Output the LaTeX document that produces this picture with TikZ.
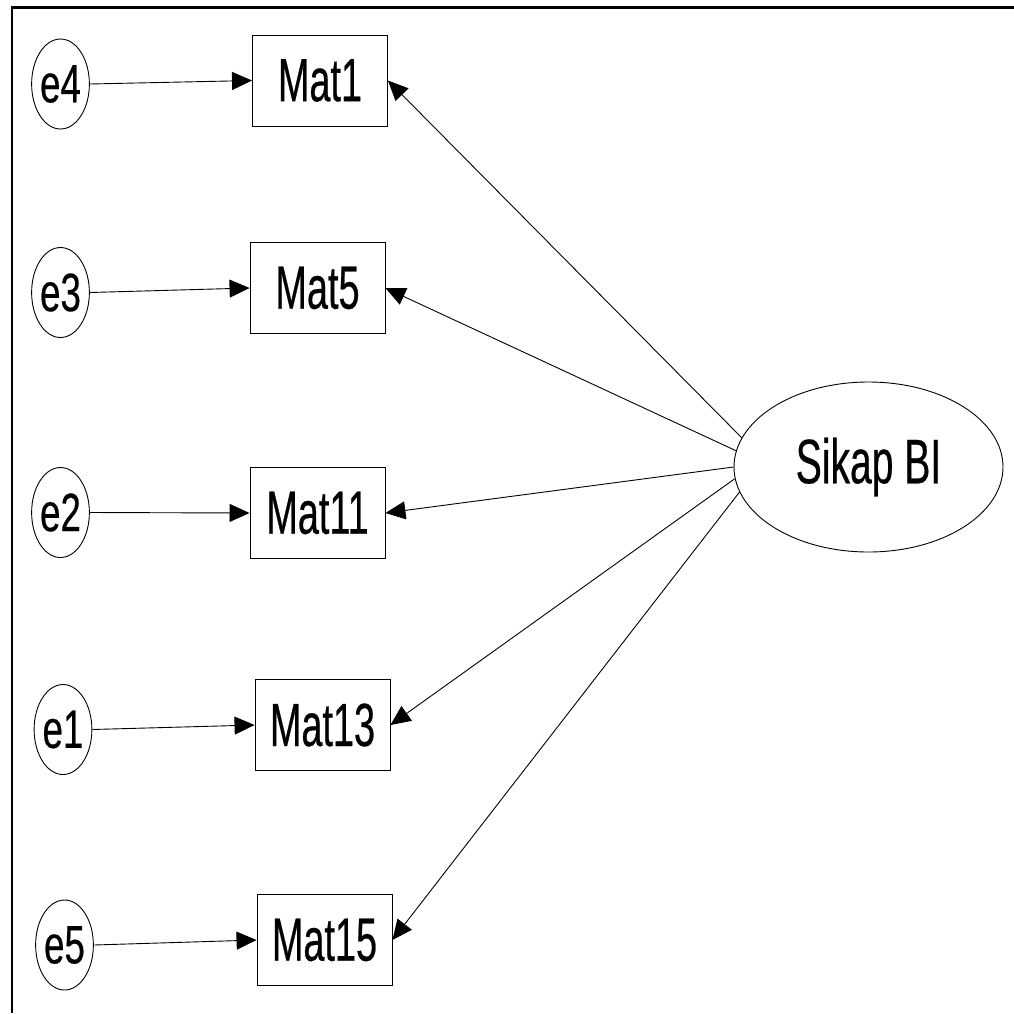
\documentclass[tikz,border=0pt]{standalone}
\usepackage{fontspec}
\setmainfont{Liberation Sans}
\newfontfamily\bigfont{Liberation Sans}[FakeStretch=0.62,FakeBold=0.4]
\newfontfamily\smallfont{Liberation Sans}[FakeStretch=0.68,FakeBold=0.4]
\usetikzlibrary{arrows.meta,shapes.geometric}
\begin{document}
\begin{tikzpicture}[x=1pt,y=-1pt,
  errnode/.style={ellipse,draw,line width=0.9pt,minimum width=57pt,minimum height=90pt,inner sep=0pt,
    font=\smallfont\fontsize{54}{54}\selectfont},
  obsbox/.style={rectangle,draw,line width=0.9pt,minimum width=135pt,minimum height=91pt,inner sep=0pt,
    font=\bigfont\fontsize{61}{61}\selectfont},
  latent/.style={ellipse,draw,line width=0.9pt,minimum width=269pt,minimum height=170pt,inner sep=0pt,
    font=\bigfont\fontsize{63}{63}\selectfont},
  path/.style={line width=0.9pt,-{Triangle[length=20pt,width=18pt]}}]
\useasboundingbox (0,0) rectangle (1014,1013);
\draw[line width=2.3pt] (12,1013) -- (12,7.5) -- (1014,7.5);

\node[errnode] (e4) at (60.5,84) {e4};
\node[errnode] (e3) at (60.5,292.5) {e3};
\node[errnode] (e2) at (60.5,512.5) {e2};
\node[errnode] (e1) at (63,729.5) {e1};
\node[errnode] (e5) at (64.5,945) {e5};

\node[obsbox] (m1) at (320,80.5) {Mat1};
\node[obsbox] (m5) at (317.5,288) {Mat5};
\node[obsbox] (m11) at (317.5,513) {Mat11};
\node[obsbox] (m13) at (322.5,725) {Mat13};
\node[obsbox] (m15) at (324.5,940) {Mat15};

\node[latent] (s) at (868.5,467) {Sikap BI};

\draw[path] (e4.east) -- (m1.west);
\draw[path] (e3.east) -- (m5.west);
\draw[path] (e2.east) -- (m11.west);
\draw[path] (e1.east) -- (m13.west);
\draw[path] (e5.east) -- (m15.west);

\draw[path] (s.167.4) -- (m1.east);
\draw[path] (s.173.2) -- (m5.east);
\draw[path] (s.180) -- (m11.east);
\draw[path] (s.185.6) -- (m13.east);
\draw[path] (s.191.5) -- (m15.east);
\end{tikzpicture}
\end{document}
